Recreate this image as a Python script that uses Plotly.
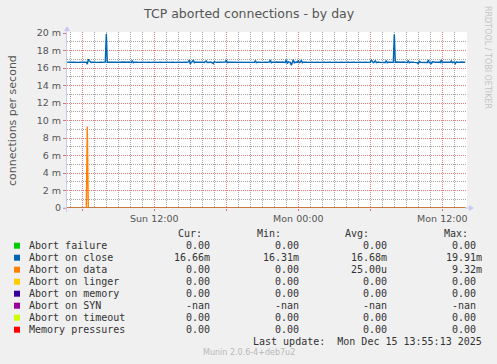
import pandas as pd
import plotly.graph_objects as go

# ---------------- data ----------------
title = "TCP aborted connections - by day"
y_title = "connections per second"
start_time = "2025-12-14 04:45"
n_points = 399  # 5-minute samples up to last update

# Abort on close (values in milli-connections/s)
close_vals = [
    16.66,16.68,16.66,16.64,16.66,16.66,16.68,16.66,16.66,16.64,16.66,16.66,16.68,16.66,16.66,16.66,16.64,16.66,16.68,16.66,
    16.45,17.00,16.80,16.66,16.64,16.66,16.68,16.66,16.66,16.64,16.66,16.66,16.68,16.66,16.66,16.64,16.66,16.66,16.68,19.91,
    16.66,16.66,16.64,16.68,16.66,16.66,16.66,16.64,16.66,16.68,16.66,16.66,16.64,16.66,16.66,16.68,16.66,16.66,16.64,16.66,
    16.66,16.68,16.66,16.66,16.64,16.85,16.60,16.66,16.68,16.66,16.66,16.64,16.66,16.66,16.68,16.66,16.66,16.64,16.66,16.66,
    16.68,16.66,16.66,16.64,16.66,16.66,16.68,16.66,16.66,16.64,16.66,16.66,16.68,16.66,16.66,16.64,16.66,16.66,16.68,16.66,
    16.66,16.64,16.66,16.66,16.68,16.66,16.66,16.64,16.66,16.66,16.68,16.66,16.66,16.64,16.66,16.66,16.68,16.66,16.66,16.64,
    16.66,16.70,16.90,16.45,16.66,16.72,16.90,16.60,16.66,16.68,16.66,16.64,16.66,16.66,16.68,16.66,16.66,16.64,16.70,16.80,
    16.62,16.66,16.68,16.66,16.66,16.62,16.50,16.72,16.66,16.64,16.66,16.66,16.68,16.66,16.66,16.64,16.66,16.66,16.68,16.90,
    16.60,16.66,16.66,16.64,16.66,16.66,16.68,16.66,16.66,16.64,16.66,16.66,16.68,16.66,16.66,16.64,16.66,16.66,16.68,16.66,
    16.66,16.64,16.66,16.66,16.68,16.66,16.66,16.64,16.85,16.62,16.66,16.68,16.66,16.66,16.64,16.66,16.66,16.68,16.66,16.66,
    16.64,16.66,16.68,16.90,16.60,16.66,16.64,16.66,16.66,16.68,16.66,16.66,16.64,16.66,16.66,16.68,16.66,16.66,16.64,16.95,
    16.50,16.70,16.66,16.64,16.31,16.72,16.95,16.60,16.66,16.68,16.66,16.85,16.62,16.66,16.90,16.60,16.66,16.68,16.66,16.66,
    16.64,16.66,16.66,16.68,16.66,16.66,16.64,16.66,16.66,16.68,16.66,16.66,16.64,16.66,16.66,16.68,16.66,16.66,16.64,16.66,
    16.66,16.68,16.66,16.66,16.64,16.66,16.66,16.68,16.66,16.66,16.64,16.66,16.66,16.68,16.66,16.66,16.64,16.66,16.66,16.68,
    16.66,16.66,16.64,16.66,16.66,16.68,16.66,16.66,16.64,16.66,16.66,16.68,16.66,16.66,16.64,16.66,16.66,16.68,16.66,16.66,
    16.64,16.66,16.68,16.66,16.90,16.75,16.62,16.66,16.85,16.60,16.66,16.68,16.66,16.66,16.64,16.66,16.66,16.68,16.62,16.85,
    16.60,16.66,16.68,16.66,16.66,16.64,16.66,19.85,16.66,16.68,16.66,16.66,16.64,16.66,16.66,16.68,16.66,16.66,16.64,16.66,
    16.62,16.85,16.60,16.66,16.68,16.66,16.66,16.64,16.66,16.68,16.62,16.45,16.80,16.66,16.66,16.64,16.66,16.68,16.66,16.66,
    16.62,16.90,16.60,16.66,16.45,16.72,16.66,16.68,16.66,16.64,16.66,16.66,16.68,16.62,16.90,16.60,16.66,16.64,16.66,16.68,
    16.66,16.66,16.64,16.66,16.80,16.62,16.66,16.68,16.50,16.70,16.66,16.64,16.66,16.66,16.68,16.66,16.66,16.64,16.66,
]
# Abort on data: a single spike
data_spike_index = 20
data_spike_value = 9.32
zero_vals = [0.0] * n_points
data_vals = [0.0] * n_points
data_vals[data_spike_index] = data_spike_value

series_names = ["Abort failure", "Abort on close", "Abort on data", "Abort on linger",
                "Abort on memory", "Abort on SYN", "Abort on timeout", "Memory pressures"]
series_colors = ["#00CC00", "#0066B3", "#FF8000", "#FFCC00",
                 "#330099", "#990099", "#CCFF00", "#FF0000"]
cur_vals = ["0.00", "16.66m", "0.00", "0.00", "0.00", "-nan", "0.00", "0.00"]
min_vals = ["0.00", "16.31m", "0.00", "0.00", "0.00", "-nan", "0.00", "0.00"]
avg_vals = ["0.00", "16.68m", "25.00u", "0.00", "0.00", "-nan", "0.00", "0.00"]
max_vals = ["0.00", "19.91m", "9.32m", "0.00", "0.00", "-nan", "0.00", "0.00"]

# tick labels: labels that plotly would show -> labels the chart shows
y_tick_raw = ["0 m"]
y_tick_shown = ["0"]
x_tick_raw = ["Sun 06:00", "Sun 18:00", "Mon 06:00"]
x_tick_shown = ["", "", ""]
x_range = ["2025-12-14 04:43:30", "2025-12-15 14:03:30"]
y_range = [0, 20.114]

last_update = "Last update:  Mon Dec 15 13:55:13 2025"
footer = "Munin 2.0.6-4+deb7u2"
side_text = "RRDTOOL / TOBI OETIKER"

# ---------------- figure ----------------
W, H = 497, 364
L, R, T, B = 67, 467, 32, 208


def px(x):
    return (x - L) / (R - L)


def py(y):
    return (B - y) / (B - T)


times = pd.date_range(start_time, periods=n_points, freq="5min")
series_values = {
    "Abort failure": zero_vals,
    "Abort on close": close_vals,
    "Abort on data": data_vals,
    "Abort on linger": zero_vals,
    "Abort on memory": zero_vals,
    "Abort on timeout": zero_vals,
    "Memory pressures": zero_vals,
}

fig = go.Figure()
for name, color in zip(series_names, series_colors):
    if name not in series_values:
        continue
    line_color = color
    if name == "Memory pressures":
        line_color = "rgba(220,60,90,0.75)"
    fig.add_trace(go.Scatter(x=times, y=series_values[name], mode="lines",
                             line=dict(color=line_color, width=1.4),
                             name=name, showlegend=False))

mono = "DejaVu Sans Mono"
sans = "DejaVu Sans"
annotations = []
shapes = []

# title
annotations.append(dict(text=title, x=px(248.5), y=py(13), xref="paper", yref="paper",
                        xanchor="center", yanchor="middle", showarrow=False,
                        font=dict(family=sans, size=12.5, color="#555555")))
# y axis title
annotations.append(dict(text=y_title, x=px(12), y=py(120), xref="paper", yref="paper",
                        xanchor="center", yanchor="middle", showarrow=False, textangle=-90,
                        font=dict(family=sans, size=11, color="#555555")))
# side text
annotations.append(dict(text=side_text, x=px(488), y=py(57), xref="paper", yref="paper",
                        xanchor="center", yanchor="middle", showarrow=False, textangle=90,
                        font=dict(family=sans, size=8, color="#c4c4c4")))

# legend headers
for txt, xr in [("Cur:", 203.5), ("Min:", 282.5), ("Avg:", 371), ("Max:", 469.5)]:
    annotations.append(dict(text=txt, x=px(xr), y=py(233.5), xref="paper", yref="paper",
                            xanchor="right", yanchor="middle", showarrow=False,
                            font=dict(family=mono, size=10, color="#333333")))

row0 = 245.7
for i, (name, color) in enumerate(zip(series_names, series_colors)):
    yc = row0 + 12 * i
    shapes.append(dict(type="rect", xref="paper", yref="paper",
                       x0=px(14), x1=px(20), y0=py(yc + 3), y1=py(yc - 3),
                       fillcolor=color, line=dict(width=0)))
    annotations.append(dict(text=name, x=px(26.5), y=py(yc), xref="paper", yref="paper",
                            xanchor="left", yanchor="middle", showarrow=False,
                            font=dict(family=mono, size=10, color="#333333")))
    for vals, xr in [(cur_vals, 212), (min_vals, 300.5), (avg_vals, 389)]:
        annotations.append(dict(text=vals[i], x=px(xr), y=py(yc), xref="paper", yref="paper",
                                xanchor="right", yanchor="middle", showarrow=False,
                                font=dict(family=mono, size=10, color="#333333")))
    mv = max_vals[i]
    if mv[-1].isdigit() or mv.endswith("nan"):
        mv = mv + "\u00a0"
    annotations.append(dict(text=mv, x=px(483.5), y=py(yc), xref="paper", yref="paper",
                            xanchor="right", yanchor="middle", showarrow=False,
                            font=dict(family=mono, size=10, color="#333333")))

annotations.append(dict(text=last_update.replace(" ", "\u00a0"), x=px(483.5), y=py(341.5),
                        xref="paper", yref="paper", xanchor="right", yanchor="middle",
                        showarrow=False, font=dict(family=mono, size=10, color="#333333")))
annotations.append(dict(text=footer, x=px(248.5), y=py(352.5), xref="paper", yref="paper",
                        xanchor="center", yanchor="middle", showarrow=False,
                        font=dict(family=sans, size=8, color="#b8b8b8")))

# axis lines with arrows (only outside / at the edge of the plotting area)
axis_col = "#c8c8f0"
shapes.append(dict(type="line", xref="paper", yref="paper", x0=px(66.5), x1=px(66.5),
                   y0=py(212), y1=py(30), line=dict(color=axis_col, width=1)))
shapes.append(dict(type="path", xref="paper", yref="paper",
                   path=f"M {px(64)} {py(31)} L {px(70)} {py(31)} L {px(67)} {py(26)} Z",
                   fillcolor=axis_col, line=dict(width=0)))
shapes.append(dict(type="line", xref="paper", yref="paper", x0=px(63), x1=px(66.5),
                   y0=py(208), y1=py(208), line=dict(color=axis_col, width=1)))
shapes.append(dict(type="line", xref="paper", yref="paper", x0=px(465), x1=px(470),
                   y0=py(208), y1=py(208), line=dict(color=axis_col, width=1)))
shapes.append(dict(type="path", xref="paper", yref="paper",
                   path=f"M {px(469)} {py(205)} L {px(469)} {py(211)} L {px(474)} {py(208)} Z",
                   fillcolor=axis_col, line=dict(width=0)))

major_grid = "#ec7c7c"
minor_grid = "#a4a4a4"
fig.update_layout(
    width=W, height=H,
    margin=dict(l=L, r=W - R, t=T, b=H - B, pad=0),
    paper_bgcolor="#F0F0F0", plot_bgcolor="#FFFFFF",
    showlegend=False,
    annotations=annotations, shapes=shapes,
    xaxis=dict(range=x_range, tickmode="linear", tick0="2025-12-14 00:00", dtick=6 * 3600000,
               tickformat="%a %H:%M", labelalias=dict(zip(x_tick_raw, x_tick_shown)),
               showgrid=True, gridcolor=major_grid, griddash="1px,1px", gridwidth=1,
               ticks="outside", ticklen=2, tickcolor="#e07070",
               tickfont=dict(family=sans, size=9.5, color="#555555"),
               minor=dict(tickmode="linear", dtick=3600000, tick0="2025-12-14 00:00",
                          showgrid=True, gridcolor=minor_grid, griddash="1px,1px", gridwidth=1),
               showline=False, zeroline=False, fixedrange=True),
    yaxis=dict(range=y_range, tickmode="linear", tick0=0, dtick=2, ticksuffix=" m",
               labelalias=dict(zip(y_tick_raw, y_tick_shown)),
               showgrid=True, gridcolor=major_grid, griddash="1px,1px", gridwidth=1,
               ticks="outside", ticklen=3, tickcolor="#e07070",
               tickfont=dict(family=sans, size=9.5, color="#555555"),
               minor=dict(tickmode="linear", dtick=1, tick0=0, showgrid=True,
                          gridcolor=minor_grid, griddash="1px,1px", gridwidth=1),
               showline=False, zeroline=False, fixedrange=True),
)

fig.write_html("out.html", config={"displayModeBar": False},
               post_script="document.body.style.margin='0';document.body.style.padding='0';")
